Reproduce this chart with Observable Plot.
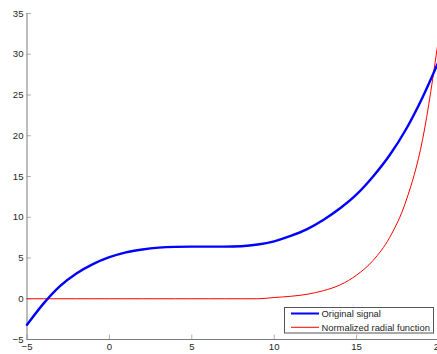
<!DOCTYPE html>
<html>
<head>
<meta charset="utf-8">
<script src="https://cdn.jsdelivr.net/npm/d3@7"></script>
<script src="https://cdn.jsdelivr.net/npm/@observablehq/plot@0.6"></script>
<style>
  html, body { margin: 0; padding: 0; background: white; overflow: hidden; }
  #wrap { position: relative; width: 437px; height: 354px; overflow: hidden; font-family: "Liberation Sans", Arial, sans-serif; }
  #legend { position: absolute; left: 284px; top: 307px; }
</style>
</head>
<body>
<div id="wrap"></div>
<script>
// ---- data ----
const xValues = [-5,-4,-3,-2,-1,0,1,2,3,4,5,6,7,8,9,10,11,12,13,14,15,16,17,18,19,20];
const originalSignal = [-3.2,-0.6,1.55,3.1,4.25,5.1,5.7,6.05,6.27,6.37,6.4,6.4,6.4,6.45,6.65,7.05,7.7,8.55,9.7,11.1,12.8,15.0,17.6,20.8,24.7,29.2];
const radialFunction = [0,0,0,0,0,0,0,0,0,0,0,0,0,0,0,0.15,0.3,0.55,1.0,1.7,2.9,4.7,7.5,12.0,19.5,32.3];
const seriesNames = ["Original signal", "Normalized radial function"];
const seriesColors = ["#0000ff", "#ff0000"];
const xDomain = [-5, 20];
const yDomain = [-5, 35];
const xTicks = [-5, 0, 5, 10, 15, 20];
const yTicks = [-5, 0, 5, 10, 15, 20, 25, 30, 35];

const blueData = xValues.map((x, i) => ({x, y: originalSignal[i]}));
const redData = xValues.map((x, i) => ({x, y: radialFunction[i]}));

const axisColor = "#7a7a7a";
const textColor = "#262626";

const chart = Plot.plot({
  width: 437,
  height: 354,
  marginLeft: 26.5,
  marginRight: -1.5,
  marginTop: 13,
  marginBottom: 15,
  x: {domain: xDomain},
  y: {domain: yDomain},
  style: {fontFamily: "'Liberation Sans', Arial, sans-serif", fontSize: "9.6px", background: "white", color: textColor, overflow: "visible"},
  marks: [
    Plot.axisX(xTicks, {tickSize: -4.5, tickFormat: () => "", label: null, stroke: "#b0b0b0"}),
    Plot.axisY(yTicks, {tickSize: -4.5, tickFormat: () => "", label: null, stroke: "#b0b0b0"}),
    Plot.axisX(xTicks, {tickSize: 0, tickPadding: 4, label: null, fill: textColor}),
    Plot.axisY(yTicks, {tickSize: 0, tickPadding: 3.5, label: null, fill: textColor}),
    Plot.ruleX([xDomain[0]], {stroke: axisColor}),
    Plot.ruleY([yDomain[0]], {stroke: axisColor}),
    Plot.line(redData, {x: "x", y: "y", stroke: seriesColors[1], strokeWidth: 1, curve: "monotone-x"}),
    Plot.line(blueData, {x: "x", y: "y", stroke: seriesColors[0], strokeWidth: 2.4, curve: "monotone-x"})
  ]
});

const wrap = document.getElementById("wrap");
wrap.appendChild(chart);

// legend inside the plot area (bottom-right)
const ns = "http://www.w3.org/2000/svg";
const leg = document.createElementNS(ns, "svg");
leg.setAttribute("id", "legend");
leg.setAttribute("width", 151);
leg.setAttribute("height", 27);
const box = document.createElementNS(ns, "rect");
box.setAttribute("x", 0.5); box.setAttribute("y", 0.5);
box.setAttribute("width", 149); box.setAttribute("height", 25.5);
box.setAttribute("fill", "white"); box.setAttribute("stroke", "#555");
leg.appendChild(box);
const rows = [6.5, 20.3];
seriesNames.forEach((name, i) => {
  const ln = document.createElementNS(ns, "line");
  ln.setAttribute("x1", 7); ln.setAttribute("x2", 35);
  ln.setAttribute("y1", rows[i]); ln.setAttribute("y2", rows[i]);
  ln.setAttribute("stroke", seriesColors[i]);
  ln.setAttribute("stroke-width", i === 0 ? 2 : 1);
  leg.appendChild(ln);
  const t = document.createElementNS(ns, "text");
  t.setAttribute("x", 37.5); t.setAttribute("y", rows[i]);
  t.setAttribute("dy", "0.35em");
  t.setAttribute("font-size", "9.4px");
  t.setAttribute("font-family", "'Liberation Sans', Arial, sans-serif");
  t.setAttribute("fill", textColor);
  t.textContent = name;
  leg.appendChild(t);
});
wrap.appendChild(leg);
</script>
</body>
</html>
